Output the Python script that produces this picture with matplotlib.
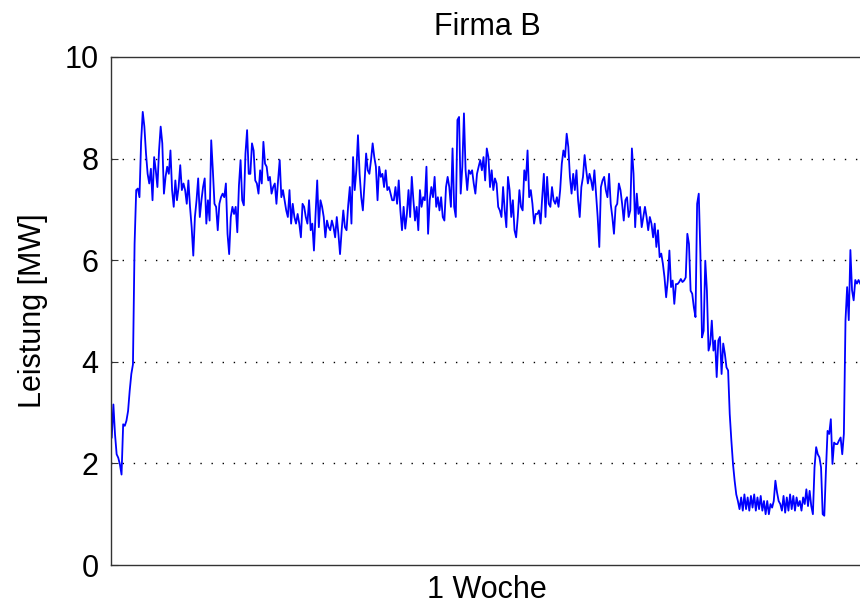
import numpy as np
import matplotlib
matplotlib.use("Agg")
import matplotlib.pyplot as plt

# Leistung der Firma B ueber eine Woche (MW)
leistung_a = [
    2.51, 3.16, 2.57, 2.18, 2.11, 1.98, 1.78, 2.77, 2.74, 2.84, 3.03, 3.43, 3.76, 3.95,
    6.32, 7.38, 7.41, 7.24, 8.33, 8.92, 8.63, 8.10, 7.70, 7.51, 7.80, 7.18, 8.03, 7.77,
    7.44, 8.16, 8.63, 8.30, 7.31, 7.64, 7.84, 7.70, 8.16, 7.38, 7.05, 7.57, 7.18, 7.44,
    7.87, 7.38, 7.51, 7.38, 7.11, 7.57, 7.05, 6.65, 6.09, 6.85, 7.18, 7.61, 6.85, 7.18,
    7.44, 7.61, 6.72, 7.18, 6.78, 8.36, 7.77, 7.11, 7.05, 6.59, 7.11, 7.24, 7.31, 7.24,
]
leistung_b = [
    7.51, 6.52, 6.12, 6.85, 7.05, 6.91, 7.05, 6.55, 7.47, 7.97, 7.18, 7.08, 8.10, 8.56,
    7.70, 7.70, 8.30, 8.16, 7.57, 7.51, 7.31, 7.77, 7.51, 8.33, 7.90, 7.84, 7.57, 7.64,
    7.31, 7.44, 7.51, 7.11, 7.57, 7.97, 7.24, 7.38, 7.18, 6.98, 6.85, 7.38, 6.72, 7.11,
    6.85, 6.72, 6.91, 6.72, 6.45, 7.11, 7.05, 6.85, 6.72, 7.18, 6.59, 6.72, 6.19, 6.91,
    7.57, 6.65, 7.18, 7.05, 6.85, 6.45, 6.78, 6.65, 6.59, 6.78, 6.65, 6.45, 6.85, 6.52,
    6.12, 6.59, 6.98, 6.65, 6.59, 7.08,
]
leistung_c = [
    7.44, 6.72, 8.03, 7.38, 7.77, 8.46, 7.70, 7.24, 6.98, 7.51, 8.10, 7.77, 7.70, 7.97,
    8.30, 8.03, 7.84, 7.18, 7.84, 7.64, 7.70, 7.44, 7.77, 7.38, 7.44, 7.31, 7.18, 7.18,
    7.44, 7.11, 7.57, 6.98, 6.59, 7.05, 6.62, 6.91, 7.38, 6.85, 7.64, 7.18, 6.78, 7.05,
    6.59, 7.38, 7.05, 7.24, 7.18, 7.84, 6.52, 7.18, 7.44, 7.24, 7.64, 7.05, 7.24, 6.98,
    7.24, 6.85, 6.78, 7.44, 7.64, 7.44, 7.05, 8.20, 7.05, 6.85, 8.76, 8.82, 7.31, 7.84,
    8.89, 7.77, 7.38, 7.77, 7.70,
]
leistung_d = [
    7.77, 7.51, 7.31, 7.70, 7.84, 7.97, 7.77, 8.03, 7.57, 8.20, 8.03, 7.44, 7.77, 7.38,
    7.61, 7.51, 7.05, 6.98, 6.85, 7.44, 6.98, 6.65, 7.64, 7.38, 6.85, 7.18, 6.59, 6.45,
    6.85, 7.38, 7.05, 6.98, 7.77, 7.57, 8.16, 7.24, 7.38, 7.11, 6.72, 6.91, 6.91, 6.98,
    6.72, 7.24, 7.70, 6.85, 7.64, 7.11, 7.05, 7.44, 7.18, 7.11, 7.24, 7.05, 7.38, 7.90,
    8.16, 8.03, 8.49, 8.23, 7.64, 7.31, 7.70, 7.38, 7.77, 7.18, 6.85, 7.44, 7.64, 8.07,
    7.77, 7.51, 7.70, 7.57, 7.38, 7.77,
]
leistung_e = [
    7.31, 6.85, 6.26, 7.44, 7.57, 7.64, 7.38, 7.24, 7.70, 7.11, 6.85, 6.52, 7.05, 7.11,
    7.51, 7.38, 7.11, 6.78, 7.18, 7.24, 6.85, 6.98, 8.20, 7.70, 6.65, 7.31, 6.91, 7.05,
    6.65, 6.85, 7.05, 6.85, 6.59, 6.85, 6.72, 6.45, 6.72, 6.26, 6.59, 6.06, 6.13, 5.93,
    5.66, 5.27, 5.60, 6.19, 5.47, 5.60, 5.14, 5.53, 5.53, 5.57, 5.63, 5.57, 5.60, 5.66,
    6.52, 6.32, 5.40, 5.34, 5.07, 4.88, 7.11, 7.31, 6.13, 4.48, 4.61, 5.99, 5.40, 4.22,
    4.35, 4.81, 4.22,
]
leistung_f = [
    4.42, 3.70, 4.42, 4.49, 3.76, 4.36, 4.16, 3.89, 3.83, 2.97, 2.45, 1.99, 1.66, 1.39,
    1.26, 1.10, 1.33, 1.07, 1.39, 1.10, 1.33, 1.07, 1.36, 1.13, 1.39, 1.07, 1.33, 1.10,
    1.36, 1.07, 1.26, 1.00, 1.26, 1.00, 1.20, 1.13, 1.26, 1.66, 1.43, 1.26, 1.20, 1.07,
    1.36, 1.03, 1.33, 1.07, 1.39, 1.10, 1.36, 1.07, 1.33, 1.16, 1.26, 1.07, 1.33, 1.20,
    1.49, 1.16, 1.46, 1.16, 1.00, 1.92, 2.32, 2.18, 2.12, 1.92, 1.00, 0.97, 1.86, 2.64,
    2.58, 2.87, 1.99, 2.41, 2.38, 2.38, 2.45, 2.51, 2.18, 2.58, 4.82, 5.47, 4.82, 6.20,
    5.41, 5.21, 5.61, 5.54, 5.61, 5.54,
]

leistung = np.array(leistung_a + leistung_b + leistung_c + leistung_d + leistung_e + leistung_f)
zeit = np.arange(len(leistung))

y_ticks = [0, 2, 4, 6, 8, 10]

plt.rcParams['font.family'] = ['Liberation Sans', 'DejaVu Sans']

fig = plt.figure(figsize=(8.6, 6.03), dpi=100)
ax = fig.add_axes([0.129, 0.063, 0.875, 0.8425])

ax.plot(zeit, leistung, color='#0000ff', lw=1.3)

ax.set_xlim(-0.5, len(leistung) + 1)
ax.set_ylim(0, 10)
ax.set_yticks(y_ticks)
ax.set_xticks([])
ax.tick_params(axis='y', direction='in', length=5, labelsize=22, pad=9, color='#333333')

for g in y_ticks[1:-1]:
    ax.axhline(g, color='black', lw=1.0, linestyle=(0, (1, 7)), zorder=0)

for s in ax.spines.values():
    s.set_color('#333333')
    s.set_linewidth(1.0)

ax.set_title('Firma B', fontsize=22, pad=16)
ax.set_xlabel('1 Woche', fontsize=22, labelpad=7)
ax.set_ylabel('Leistung [MW]', fontsize=22, labelpad=12)

fig.savefig('out.png', dpi=100)
